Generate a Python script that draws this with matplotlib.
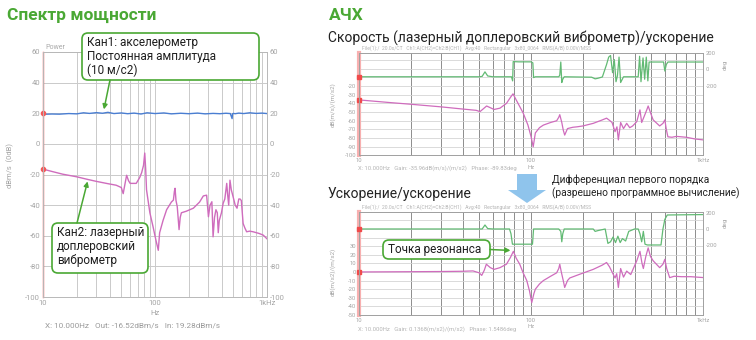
import numpy as np
import matplotlib.pyplot as plt
from matplotlib.patches import FancyBboxPatch, FancyArrow
from matplotlib.ticker import NullFormatter

plt.rcParams['font.family'] = ['Roboto', 'DejaVu Sans']
plt.rcParams['axes.unicode_minus'] = False

W, H = 756, 340
GREEN = '#4aa834'
PINK = '#cf6cbd'
BLUE = '#4a7ed2'
PHASE_GREEN = '#62ba74'
TICK_GRAY = '#a4a4a4'

# --- спектр мощности: Кан1 (акселерометр) и Кан2 (виброметр), dB
ch1_freq = [10, 12, 14, 17, 20, 23, 26, 30, 34, 38, 43, 50, 57, 65, 75, 85, 100,
            120, 140, 170, 200, 240, 280, 330, 380, 430, 470, 488, 492, 500, 520,
            560, 620, 700, 800, 900, 1000]
ch1_level = [19.3, 19.5, 19.4, 19.8, 19.6, 20.3, 19.9, 20.4, 20.0, 20.6, 19.8, 20.2,
             19.7, 20.1, 19.5, 20.3, 19.8, 20.2, 19.6, 20.0, 19.7, 20.1, 19.6, 19.9,
             19.7, 20.0, 19.8, 16.5, 19.6, 19.9, 19.7, 20.1, 19.8, 20.3, 19.9, 20.1, 19.8]

ch2_freq = [10, 12, 15, 20, 25, 30, 38, 45, 50, 52, 54, 55.8, 58, 60, 68, 73, 76,
            79, 81, 82.5, 84, 90, 96, 102, 107, 110, 118, 127, 140, 146, 149, 151,
            154, 158, 164, 168, 172, 190, 220, 250, 270, 289, 300, 310, 322, 330,
            340, 350, 360, 367, 375, 392, 406, 420, 437, 445, 455, 467, 480, 500,
            520, 540, 560, 575, 590, 612, 635, 658, 700, 751, 850, 926, 1000]
ch2_level = [-16.5, -18, -19.8, -21.5, -23.2, -24.5, -26, -27, -28.5, -32.5, -26,
             -20.5, -24, -25.8, -25.8, -22, -18.8, -14, -6, -16, -30, -45, -54, -63,
             -69.5, -58, -50, -43, -38, -36.7, -31, -29, -37, -41, -56, -48, -45, -44,
             -42, -38, -34, -33.5, -47.6, -40, -37.8, -60.7, -48, -43, -45, -58, -50,
             -45, -38.8, -36, -25.8, -33, -40, -23.7, -30, -35, -40, -42, -36, -36,
             -37, -52, -55, -57.4, -57, -57.4, -58.5, -59.6, -62]

# --- АЧХ: скорость/ускорение
vel_freq = [10, 15, 20, 30, 40, 48, 50.5, 53, 55.2, 58, 61, 66, 72, 76, 78.6, 82,
            90, 96, 100, 103, 106, 112, 118, 130, 141, 145, 147, 151, 154, 157, 163,
            175, 185, 200, 230, 260, 275, 288, 296, 308, 316, 322, 332, 345, 360,
            375, 390, 412, 430, 440, 455, 471, 480, 500, 513, 560, 585, 600, 612,
            625, 660, 700, 800, 900, 1000]
vel_gain = [-36, -39, -41, -44, -46.5, -48, -49.5, -46, -43, -45, -47, -45.5, -40,
            -33, -29, -36, -51, -65, -78, -90, -74, -68, -65, -62, -60, -56, -53,
            -62, -70.7, -76.5, -69, -67.5, -67, -66, -63, -59, -57, -60, -62, -72.6,
            -67, -82, -62, -69, -63, -68, -66, -61, -47.5, -62, -55, -47.5, -43, -53,
            -59, -66, -63, -59, -70, -78.5, -79, -78, -79, -81, -82]

vel_ph_freq = [10, 50, 52, 54, 56, 60, 77, 78.2, 78.8, 85, 100, 102.5, 103.5, 106,
               145, 147, 149, 151, 153, 156, 225, 236, 245, 260, 275, 283, 290, 298,
               305, 312, 318, 325, 332, 345, 420, 428, 436, 448, 458, 468, 478, 486,
               590, 600, 612, 625, 1000]
vel_phase = [-90, -90, -85, -30, -80, -90, -90, -140, 95, 92, 92, 80, -100, -90,
             -90, -70, 90, -160, -120, -90, -95, -115, -108, -92, 60, 150, 170, -40,
             120, -150, -80, 150, -160, -90, -90, 160, -150, 140, -120, 150, -140, 90,
             90, -20, 60, 90, 90]

# --- АЧХ: ускорение/ускорение
acc_freq = [10, 20, 30, 40, 46, 50, 51.7, 53.5, 55, 58, 61, 66, 72, 76, 79, 82, 86,
            90, 94.5, 98, 101, 104, 106, 112, 118, 130, 141, 145, 147, 150, 154, 157,
            163, 168, 190, 230, 260, 275, 286, 296, 308, 315, 322, 332, 345, 360,
            380, 412, 430, 442, 450, 465, 480, 495, 513, 560, 585, 600, 615, 640,
            680, 750, 850, 1000]
acc_gain = [0, 0.3, 0.5, 0.8, 1.2, -1, -4, 2, 9, 5, 3, 5, 9, 17, 24, 16, 9, -1, -10,
            -22, -35.6, -25, -20, -14, -10, -5, -1, 4, 9, 0, -10, -18, -10, -7, -3, 3,
            8, 11, 6, 0, -7, -2, -18, 4, -6, 1, -3, 13, 24, 10, 4, 18, 28, 18, 13, 5,
            9, 14.7, 4, -6.6, -5, -5.5, -5.5, -6.5]

acc_ph_freq = [10, 52, 54, 56, 60, 75, 76.5, 78, 102, 103.5, 145, 149, 151, 153, 156,
               230, 236, 245, 270, 280, 290, 300, 310, 320, 330, 340, 355, 370, 400,
               420, 430, 440, 450, 460, 475, 570, 585, 600, 620, 1000]
acc_phase = [0, 0, 50, 5, 0, 0, -60, -190, -190, 0, 0, -30, -160, -60, 0, 0, -30, -20,
             0, -180, -160, -100, -170, -90, -170, -120, -150, -30, 0, 0, -60, -160,
             -30, -190, -200, -200, 0, 120, 175, 180]


def rect(x0, y0, x1, y1):
    # pixel box (top-left origin) -> figure fraction
    return [x0 / W, 1 - y1 / H, (x1 - x0) / W, (y1 - y0) / H]


minor_f = [m * 10 ** e for e in (1, 2) for m in range(2, 10)]


def log_axis(ax, labelsize):
    ax.set_xscale('log')
    ax.set_xlim(10, 1000)
    ax.set_xticks([10, 100, 1000], ['10', '100', '1kHz'])
    ax.set_xticks(minor_f, minor=True)
    ax.xaxis.set_minor_formatter(NullFormatter())
    ax.tick_params(which='both', length=0, labelsize=labelsize, labelcolor=TICK_GRAY, pad=2)


fig = plt.figure(figsize=(W / 100, H / 100), dpi=100)

# спектр мощности
ax_p = fig.add_axes(rect(43, 52, 267, 297))
log_axis(ax_p, 5.5)
ax_p.set_ylim(-100, 60)
ax_p.set_yticks(range(-100, 61, 20))
ax_p.grid(True, which='both', color='#cacaca', lw=0.7)
ax_p.tick_params(axis='y', labelright=True)
ax_p.plot(ch1_freq, ch1_level, color=BLUE, lw=1.0)
ax_p.plot(ch2_freq, ch2_level, color=PINK, lw=1.0)
ax_p.axvline(10, color='#f25a5a', lw=1.0, clip_on=False)
ax_p.plot([10, 10], [ch1_level[0] + 0.7, ch2_level[0]], 'o', color='#f25a5a', ms=3, clip_on=False)
ax_p.set_xlabel('Hz', fontsize=5.5, color=TICK_GRAY, labelpad=3)
ax_p.text(0.01, 1.005, 'Power', transform=ax_p.transAxes, fontsize=5, color='#aaaaaa', va='bottom')
for s in ax_p.spines.values():
    s.set_color('#b8b8b8')
    s.set_linewidth(0.7)


def fr_chart(box, freq, gain, ph_freq, phase, glim, gmax_label, plim):
    ax = fig.add_axes(rect(*box))
    log_axis(ax, 4.2)
    ax.set_ylim(*glim)
    ticks = list(range(glim[0], glim[1] + 1, 10))
    ax.set_yticks(ticks, [str(t) if t <= gmax_label else '' for t in ticks])
    ax.grid(True, which='both', axis='x', color='#8d8d8d', lw=0.7)
    ax.grid(True, axis='y', color='#d4d4d4', lw=0.6)
    ax.plot(freq, gain, color=PINK, lw=0.9)
    ax.axvline(10, color='#f8b0b0', lw=3.0, clip_on=False)
    ax.plot(10, gain[0], 's', color='#f04a4a', ms=2.5, clip_on=False)
    ax.set_xlabel('Hz', fontsize=4.2, color=TICK_GRAY, labelpad=1)
    for s in ax.spines.values():
        s.set_color('#a0a0a0')
        s.set_linewidth(0.7)

    axp = ax.twinx()
    axp.set_ylim(*plim)
    axp.set_yticks([200, 0, -200])
    axp.tick_params(length=0, labelsize=4.2, labelcolor=TICK_GRAY, pad=2)
    axp.plot(ph_freq, phase, color=PHASE_GREEN, lw=0.9)
    axp.plot(10, phase[0], 's', color='#f04a4a', ms=2.5, clip_on=False)
    for s in axp.spines.values():
        s.set_visible(False)
    return ax


header = ('File(1):/  20.0s/CT   Ch1:A(CH2)=Ch2:B(CH1)   Avg:40   Rectangular   '
          '3x80_0064   RMS(A/B) 0.00V/MSS')

ax_v = fr_chart((359, 53, 703, 155.5), vel_freq, vel_gain, vel_ph_freq, vel_phase,
                (-100, 18), -20, (-1050, 200))
ax_a = fr_chart((359, 211.7, 703, 315), acc_freq, acc_gain, acc_ph_freq, acc_phase,
                (-50, 70), 30, (-1075, 216))

# overlay in pixel coordinates for titles, callouts and arrows
ov = fig.add_axes([0, 0, 1, 1])
ov.set_xlim(0, W)
ov.set_ylim(H, 0)
ov.axis('off')

ov.text(7, 15, 'Спектр мощности', fontsize=12.5, fontweight='bold', color=GREEN, va='center')
ov.text(329, 15, 'АЧХ', fontsize=12.5, fontweight='bold', color=GREEN, va='center')
ov.text(328, 38, 'Скорость (лазерный доплеровский виброметр)/ускорение', fontsize=10,
        color='#222222', va='center')
ov.text(328, 194, 'Ускорение/ускорение', fontsize=10, color='#222222', va='center')
ov.text(552, 187, 'Дифференциал первого порядка\n(разрешено программное вычисление)',
        fontsize=7.3, color='#222222', va='center', linespacing=1.25)

ov.add_patch(FancyArrow(527, 174, 0, 29, width=20, head_width=38, head_length=13,
                        length_includes_head=True, color='#8fc4ec', lw=0))

ov.text(10, 165, 'dBm/s  (0dB)', rotation=90, fontsize=5.5, color=TICK_GRAY,
        ha='center', va='center')
ov.text(45, 325, 'X: 10.000Hz   Out: -16.52dBm/s   In: 19.28dBm/s', fontsize=5.9,
        color='#9a9a9a', va='center')

for y_mid, ylab in ((105, 'dB(m/s)/(m/s2)'), (272, 'dB(m/s2)/(m/s2)')):
    ov.text(333, y_mid, ylab, rotation=90, fontsize=4.5, color=TICK_GRAY,
            ha='center', va='center')
for y_deg in (65, 223):
    ov.text(725, y_deg, 'deg', rotation=90, fontsize=4.5, color=TICK_GRAY,
            ha='center', va='center')
ov.text(362, 51, header, fontsize=3.6, color='#b4b4b4', va='bottom')
ov.text(362, 210, header, fontsize=3.6, color='#b4b4b4', va='bottom')
ov.text(358, 168, 'X: 10.000Hz   Gain: -35.96dB(m/s)/(m/s2)   Phase: -89.83deg',
        fontsize=4.2, color='#b4b4b4', va='center')
ov.text(358, 329, 'X: 10.000Hz   Gain: 0.1368(m/s2)/(m/s2)   Phase: 1.5486deg',
        fontsize=4.2, color='#b4b4b4', va='center')

# callouts
arrow_kw = dict(arrowstyle='-|>', color=GREEN, lw=1.1, mutation_scale=7, shrinkA=0, shrinkB=0)
callouts = [
    ((82, 33, 177, 47), 'Кан1: акселерометр\nПостоянная амплитуда\n(10 м/с2)', 'top',
     (110, 80), ax_p, (35, 22.5)),
    ((52, 223, 96, 50), 'Кан2: лазерный\nдоплеровский\nвиброметр', 'top',
     (77, 223), ax_p, (25, -24.5)),
    ((383, 240, 107, 19), 'Точка резонанса', 'center', (490, 249.5), ax_a, (76, 25)),
]
for (bx, by, bw, bh), label, va, start, target_ax, target in callouts:
    ov.add_patch(FancyBboxPatch((bx, by), bw, bh, boxstyle='round,pad=0,rounding_size=6',
                                fc='white', ec=GREEN, lw=1.2))
    ty = by + 3 if va == 'top' else by + bh / 2
    ov.text(bx + 5, ty, label, fontsize=8.5, color='#1e1e1e', va=va, linespacing=1.1)
    ov.annotate('', xy=target, xycoords=target_ax.transData, xytext=start,
                textcoords='data', arrowprops=arrow_kw)

fig.savefig('out.png', dpi=100, facecolor='white')
